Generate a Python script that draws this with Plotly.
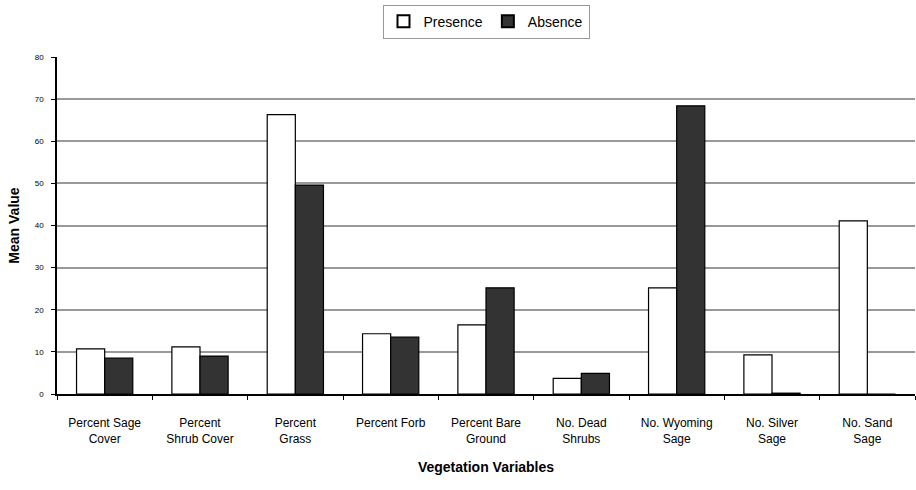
import plotly.graph_objects as go

categories = ["Percent Sage<br>Cover", "Percent<br>Shrub Cover", "Percent<br>Grass", "Percent Forb<br> ",
              "Percent Bare<br>Ground", "No. Dead<br>Shrubs", "No. Wyoming<br>Sage", "No. Silver<br>Sage",
              "No. Sand<br>Sage"]
presence = [10.7, 11.2, 66.3, 14.3, 16.4, 3.7, 25.2, 9.3, 41.1]
absence = [8.5, 9.0, 49.6, 13.5, 25.2, 4.9, 68.4, 0.2, 0.0]
y_ticks = [0, 10, 20, 30, 40, 50, 60, 70, 80]

fig = go.Figure()
fig.add_trace(go.Bar(x=categories, y=presence, name="Presence",
                     marker=dict(color="white", line=dict(color="black", width=1.2))))
fig.add_trace(go.Bar(x=categories, y=absence, name="Absence",
                     marker=dict(color="#333333", line=dict(color="black", width=1.2))))

fig.update_layout(
    width=916, height=490,
    margin=dict(l=57, r=1, t=57, b=96),
    paper_bgcolor="white", plot_bgcolor="white",
    barmode="group", bargap=0.41, bargroupgap=0,
    font=dict(family="Liberation Sans Narrow, Arial Narrow, Liberation Sans, Arial", color="black"),
    legend=dict(orientation="h", x=0.5, xanchor="center", y=1.155, yanchor="top",
                bordercolor="#999999", borderwidth=1,
                font=dict(size=14, family="Liberation Sans, Arial"),
                itemwidth=30, tracegroupgap=0,
                itemsizing="constant", traceorder="normal"),
    showlegend=True,
)
fig.update_xaxes(
    showline=True, linecolor="black", linewidth=1.5,
    ticks="outside", ticklen=4, tickcolor="black", tickson="boundaries",
    tickfont=dict(size=12),
    ticklabelstandoff=17,
    title=dict(text="<b>Vegetation Variables</b>", font=dict(size=14, family="Liberation Sans, Arial"), standoff=17),
)
fig.update_yaxes(
    range=[0, 80], tickvals=y_ticks,
    showline=True, linecolor="black", linewidth=1.5,
    ticks="outside", ticklen=4, tickcolor="black",
    showgrid=True, gridcolor="#999999", gridwidth=1.5,
    tickfont=dict(size=8),
    ticklabelstandoff=6,
    zeroline=False,
    title=dict(text="<b>Mean Value</b>", font=dict(size=14, family="Liberation Sans, Arial"), standoff=12),
)

fig.write_html("out.html")
